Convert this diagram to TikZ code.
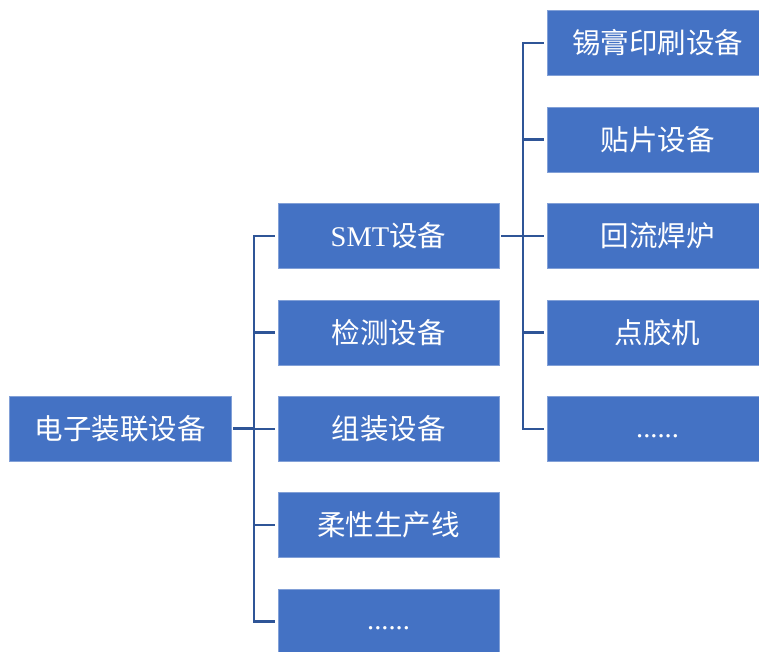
\documentclass[tikz,border=0pt]{standalone}
\usepackage{fontspec}
\setmainfont{Liberation Serif}
\newfontfamily\cjk{Noto Sans CJK SC}
\definecolor{boxfill}{RGB}{68,114,196}
\definecolor{boxedge}{RGB}{130,160,215}
\definecolor{linecol}{RGB}{47,85,151}
\tikzset{
  box/.style={fill=boxfill, draw=boxedge, line width=0.8pt, text=white,
    minimum width=221pt, minimum height=65pt, inner sep=0pt, font=\fontsize{28.5}{32}\selectfont},
  conn/.style={draw=linecol, line width=2.2pt}
}
\newcommand{\lowdots}{\raisebox{0pt}[16pt][0pt]{......}}
\begin{document}
\begin{tikzpicture}[x=1pt,y=1pt]
\useasboundingbox (0,0) rectangle (759,-651);
\clip (0,0) rectangle (759,-651);
\node[box, minimum width=222pt] (root) at (120,-428.5) {\cjk 电子装联设备};
\node[box] (m1) at (388.5,-236) {SMT{\cjk 设备}};
\node[box] (m2) at (388.5,-332.5) {\cjk 检测设备};
\node[box] (m3) at (388.5,-429) {\cjk 组装设备};
\node[box] (m4) at (388.5,-525) {\cjk 柔性生产线};
\node[box] (m5) at (388.5,-621.5) {\lowdots};
\node[box] (r1) at (657.5,-43) {\cjk 锡膏印刷设备};
\node[box] (r2) at (657.5,-139.5) {\cjk 贴片设备};
\node[box] (r3) at (657.5,-236) {\cjk 回流焊炉};
\node[box] (r4) at (657.5,-332.5) {\cjk 点胶机};
\node[box] (r5) at (657.5,-429) {\lowdots};
% left tree
\draw[conn, shorten <=2pt] (root.east) -- ++(23,0);
\draw[conn, shorten <=3pt] (m1.west) -- ++(-24,0) |- ([xshift=-3pt]m5.west);
\foreach \n in {m2,m3,m4} \draw[conn, shorten <=3pt] (\n.west) -- ++(-25,0);
% right tree
\draw[conn, shorten <=2pt] (m1.east) -- ++(24,0);
\draw[conn, shorten <=3pt] (r1.west) -- ++(-24,0) |- ([xshift=-3pt]r5.west);
\foreach \n in {r2,r3,r4} \draw[conn, shorten <=3pt] (\n.west) -- ++(-25,0);
\end{tikzpicture}
\end{document}
